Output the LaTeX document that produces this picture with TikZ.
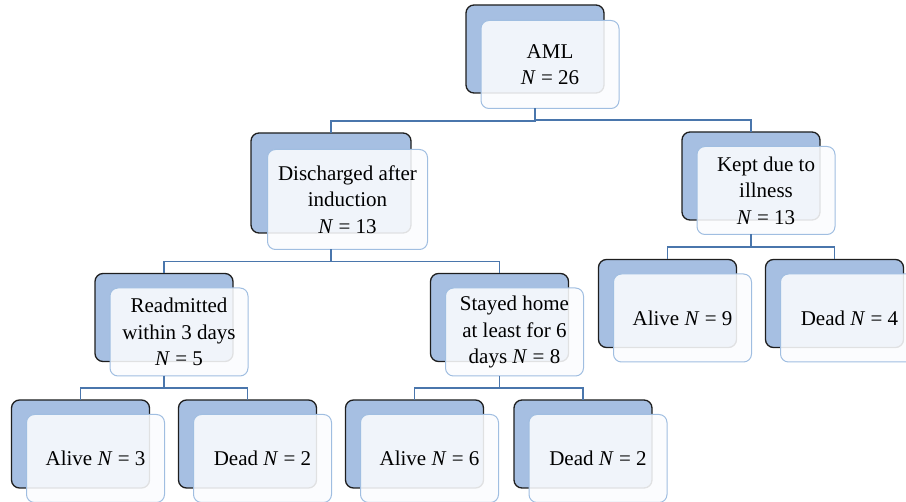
\documentclass[tikz,border=0pt]{standalone}
\usepackage{fontspec}
\setmainfont{Liberation Serif}
\usetikzlibrary{calc}
\definecolor{backfill}{RGB}{166,191,226}
\definecolor{backline}{RGB}{30,30,30}
\definecolor{frontline}{RGB}{160,190,225}
\definecolor{frontfill}{RGB}{251,252,254}
\definecolor{conncol}{RGB}{74,118,172}
\tikzset{
 backbox/.style={draw=backline, fill=backfill, line width=1.3pt, rounded corners=8pt, minimum width=138pt, minimum height=88pt, inner sep=0pt, outer sep=0pt},
 frontbox/.style={draw=frontline, fill=frontfill, fill opacity=0.88, text opacity=1, line width=1pt, rounded corners=8pt, minimum width=138pt, minimum height=88pt, inner sep=0pt, outer sep=0pt, align=center, font=\fontsize{21}{26.5}\selectfont, text=black},
 bigbox/.style={minimum width=160pt, minimum height=100pt},
 conn/.style={draw=conncol, line width=1.6pt}
}
\newcommand\conlink[3]{\draw[conn] (#1.center |- #2.south) -- ($(#1.center |- #2.south)!0.5!(#1.center |- #3.north)$) -| (#3.north);}
\begin{document}
\begin{tikzpicture}[x=1pt,y=-1pt]
\useasboundingbox (0,0) rectangle (906,502);
\clip (0,0) rectangle (906,502);
% AML
\node[backbox] (b1) at (535,49) {};
\node[frontbox] (f1) at (550,64.5) {AML\\\textit{N} = 26};
% Discharged
\node[backbox,bigbox] (b2) at (331,183) {};
\node[frontbox,bigbox] (f2) at (347.5,199.5) {Discharged after\\induction\\\textit{N} = 13};
% Kept
\node[backbox] (b3) at (751,176) {};
\node[frontbox] (f3) at (766,190.5) {Kept due to\\illness\\\textit{N} = 13};
% Readmitted
\node[backbox] (b4) at (164,317.5) {};
\node[frontbox] (f4) at (179,332) {Readmitted\\within 3 days\\\textit{N} = 5};
% Stayed
\node[backbox] (b5) at (499.5,317.5) {};
\node[frontbox] (f5) at (514.5,332) {Stayed home\\at least for 6\\days \textit{N} = 8};
% Alive 9 / Dead 4
\node[backbox] (b6) at (667.5,303.5) {};
\node[frontbox] (f6) at (682.5,318) {Alive \textit{N} = 9};
\node[backbox] (b7) at (834.5,303.5) {};
\node[frontbox] (f7) at (849.5,318) {Dead \textit{N} = 4};
% bottom row
\node[backbox] (b8) at (80.5,444) {};
\node[frontbox] (f8) at (95.5,458.5) {Alive \textit{N} = 3};
\node[backbox] (b9) at (247.5,444) {};
\node[frontbox] (f9) at (262.5,458.5) {Dead \textit{N} = 2};
\node[backbox] (b10) at (414.5,444) {};
\node[frontbox] (f10) at (429.5,458.5) {Alive \textit{N} = 6};
\node[backbox] (b11) at (583,444) {};
\node[frontbox] (f11) at (598,458.5) {Dead \textit{N} = 2};
% connectors
\conlink{b1}{f1}{b2}
\conlink{b1}{f1}{b3}
\conlink{b2}{f2}{b4}
\conlink{b2}{f2}{b5}
\conlink{b3}{f3}{b6}
\conlink{b3}{f3}{b7}
\conlink{b4}{f4}{b8}
\conlink{b4}{f4}{b9}
\conlink{b5}{f5}{b10}
\conlink{b5}{f5}{b11}
\end{tikzpicture}
\end{document}
